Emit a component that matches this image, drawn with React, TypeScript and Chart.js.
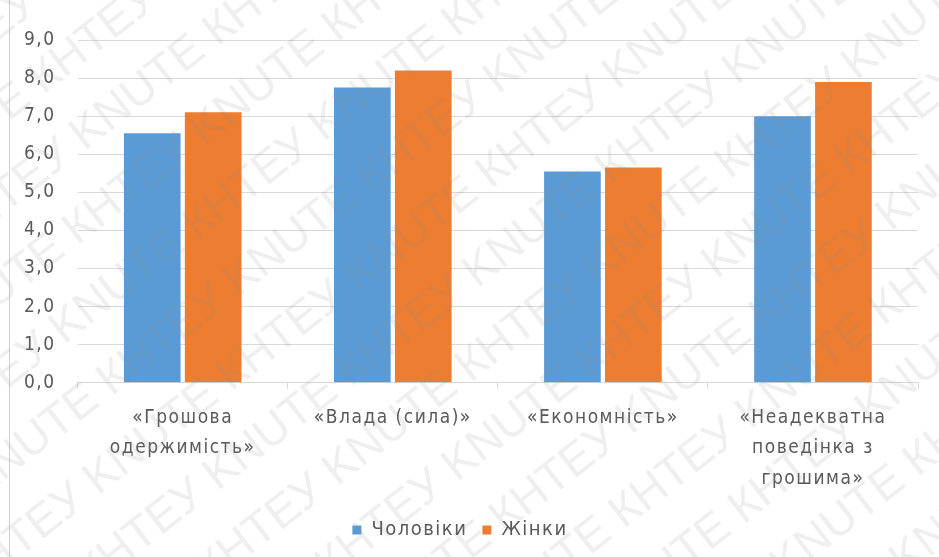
import React, { useEffect, useRef } from "react";
import { Chart, registerables } from "chart.js";

Chart.register(...registerables);

const categories: string[][] = [
  ["«Грошова", "одержимість»"],
  ["«Влада (сила)»"],
  ["«Економність»"],
  ["«Неадекватна", "поведінка з", "грошима»"],
];
const seriesNames = ["Чоловіки", "Жінки"];
const men = [6.55, 7.75, 5.55, 7.0];
const women = [7.1, 8.2, 5.65, 7.9];
const yMin = 0;
const yMax = 9;
const yStep = 1;
const watermarkText = "KNUTE КНТЕУ ";

const FONT = "'DejaVu Sans Condensed', 'Liberation Sans', sans-serif";

const spacing = {
  id: "spacing",
  beforeUpdate(chart: any) {
    chart.ctx.letterSpacing = "1.5px";
  },
  beforeLayout(chart: any) {
    chart.ctx.letterSpacing = "1.5px";
  },
  beforeDraw(chart: any) {
    chart.ctx.letterSpacing = "1.5px";
  },
};

const watermark = {
  id: "watermark",
  afterDraw(chart: any) {
    const ctx = chart.ctx;
    const w = chart.width;
    const h = chart.height;
    ctx.save();
    ctx.letterSpacing = "0px";
    ctx.strokeStyle = "#d0d0d0";
    ctx.lineWidth = 1;
    ctx.beginPath();
    ctx.moveTo(9.5, 0);
    ctx.lineTo(9.5, h);
    ctx.stroke();
    ctx.font = "46px 'Liberation Sans', sans-serif";
    ctx.fillStyle = "rgba(140,140,140,0.14)";
    ctx.translate(w / 2, h / 2);
    ctx.rotate(-38 * Math.PI / 180);
    const line = watermarkText.repeat(12);
    const tw = ctx.measureText(line).width;
    for (let i = -10; i <= 10; i++) {
      const off = (i * 97) % 260;
      ctx.fillText(line, -tw / 2 + off, i * 70);
    }
    ctx.restore();
  },
};

export default function App() {
  const ref = useRef<HTMLCanvasElement | null>(null);
  useEffect(() => {
    if (!ref.current) return;
    const chart = new Chart(ref.current, {
      type: "bar",
      data: {
        labels: categories,
        datasets: [
          {
            label: seriesNames[0],
            data: men,
            backgroundColor: "#5B9BD5",
            categoryPercentage: 0.58,
            barPercentage: 0.93,
          },
          {
            label: seriesNames[1],
            data: women,
            backgroundColor: "#ED7D31",
            categoryPercentage: 0.58,
            barPercentage: 0.93,
          },
        ],
      },
      options: {
        animation: false,
        responsive: false,
        devicePixelRatio: 1,
        layout: { padding: { left: 2, right: 21, top: 40, bottom: 7 } },
        plugins: {
          tooltip: { enabled: false },
          legend: {
            position: "bottom",
            labels: {
              boxWidth: 9,
              boxHeight: 9,
              padding: 15,
              color: "#595959",
              font: { family: FONT, size: 20 },
            },
          },
        },
        scales: {
          x: {
            afterFit: (scale: any) => {
              scale.height -= 3;
            },
            grid: {
              display: true,
              offset: true,
              drawOnChartArea: false,
              drawTicks: true,
              tickLength: 6,
              color: "#d9d9d9",
            },
            border: { display: true, color: "#d9d9d9" },
            ticks: {
              color: "#595959",
              font: { family: FONT, size: 19, lineHeight: 1.6 },
              padding: 14,
              maxRotation: 0,
              autoSkip: false,
            },
          },
          y: {
            min: yMin,
            max: yMax,
            grid: { color: "#d9d9d9", drawTicks: false },
            border: { display: false },
            ticks: {
              stepSize: yStep,
              padding: 22,
              color: "#595959",
              font: { family: FONT, size: 19 },
              callback: (v: any) => Number(v).toFixed(1).replace(".", ","),
            },
          },
        },
      },
      plugins: [spacing, watermark],
    });
    return () => chart.destroy();
  }, []);
  return (
    <div style={{ position: "fixed", left: 0, top: 0, width: 939, height: 557, background: "#fff" }}>
      <canvas ref={ref} width={939} height={557} style={{ width: 939, height: 557 }} />
    </div>
  );
}
